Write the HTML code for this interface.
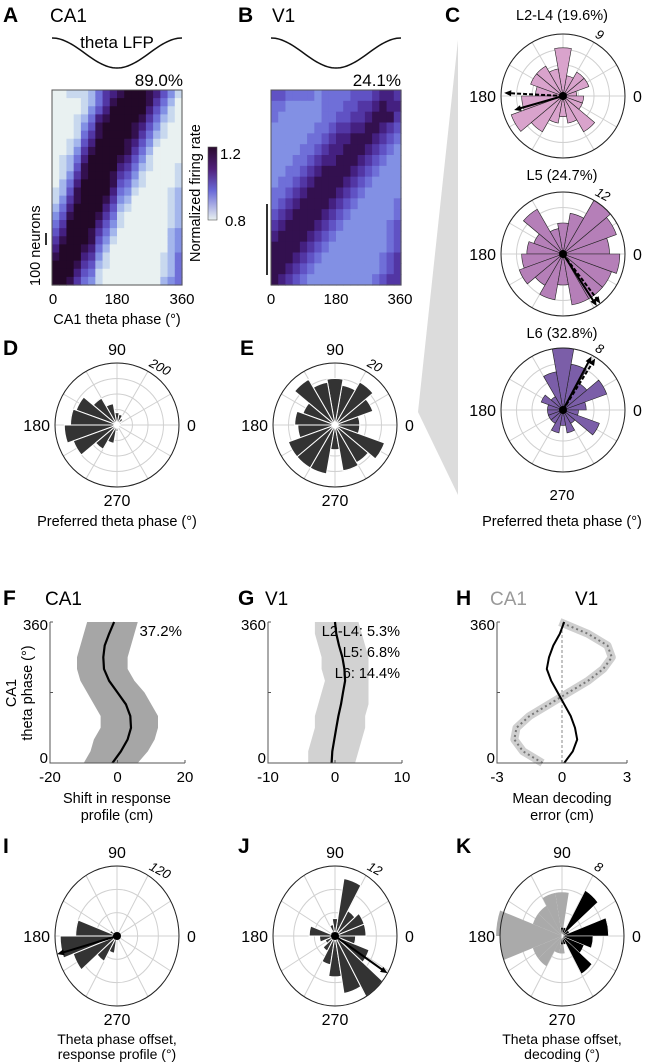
<!DOCTYPE html>
<html><head><meta charset="utf-8"><style>
html,body{margin:0;padding:0;background:#fff}
svg{display:block;font-family:"Liberation Sans",Arial,sans-serif}
.pl{font-weight:bold;font-size:21px}
.tt{font-size:19px}
.tk{font-size:15px}
.al{font-size:14.5px}
.bl{font-size:14px}
</style></head><body>
<svg id="fig" width="660" height="1062" viewBox="0 0 660 1062" xmlns="http://www.w3.org/2000/svg">
<polygon points="458,40 458,495 418,412" fill="#dcdcdc"/>
<g id="gA">
<text x="3" y="22" class="pl">A</text>
<text x="50" y="22" class="tt">CA1</text>
<text x="117" y="48" text-anchor="middle" class="tt" style="font-size:17px">theta LFP</text>
<text x="183" y="86" text-anchor="end" class="tt" style="font-size:17px">89.0%</text>
<text x="53" y="304" text-anchor="middle" class="tk">0</text>
<text x="117" y="304" text-anchor="middle" class="tk">180</text>
<text x="182" y="304" text-anchor="middle" class="tk">360</text>
<text x="117" y="324" text-anchor="middle" class="al">CA1 theta phase (°)</text>
<text transform="translate(40,286) rotate(-90)" class="al">100 neurons</text>
<line x1="46" y1="233" x2="46" y2="245" stroke="#333" stroke-width="2"/>
<text transform="translate(200,262) rotate(-90)" class="al">Normalized firing rate</text>
<defs><linearGradient id="cbg" x1="0" y1="0" x2="0" y2="1">
<stop offset="0" stop-color="#2a0a2e"/><stop offset="0.3" stop-color="#50207a"/><stop offset="0.6" stop-color="#6a6ad8"/><stop offset="1" stop-color="#e8f0f0"/></linearGradient></defs>
<rect x="208" y="147" width="9" height="73" fill="url(#cbg)" stroke="#555" stroke-width="0.6"/>
<text x="220" y="159" class="tk">1.2</text>
<text x="225" y="226" class="tk">0.8</text>
</g>
<g id="gB">
<text x="238" y="22" class="pl">B</text>
<text x="272" y="22" class="tt">V1</text>
<text x="401" y="86" text-anchor="end" class="tt" style="font-size:17px">24.1%</text>
<text x="271" y="304" text-anchor="middle" class="tk">0</text>
<text x="336" y="304" text-anchor="middle" class="tk">180</text>
<text x="400" y="304" text-anchor="middle" class="tk">360</text>
<line x1="267" y1="204" x2="267" y2="275" stroke="#333" stroke-width="2"/>
</g>
<g id="labels">
<text x="445" y="22" class="pl">C</text>
<text x="562" y="20" text-anchor="middle" class="al">L2-L4 (19.6%)</text>
<text x="562" y="180" text-anchor="middle" class="al">L5 (24.7%)</text>
<text x="562" y="338" text-anchor="middle" class="al">L6 (32.8%)</text>
<text x="562" y="500" text-anchor="middle" class="tk">270</text>
<text x="562" y="526" text-anchor="middle" class="al">Preferred theta phase (°)</text>
<text x="3" y="355" class="pl">D</text>
<text x="240" y="355" class="pl">E</text>
<text x="117" y="526" text-anchor="middle" class="al">Preferred theta phase (°)</text>
<text x="3" y="605" class="pl">F</text>
<text x="45" y="605" class="tt">CA1</text>
<text x="238" y="605" class="pl">G</text>
<text x="265" y="605" class="tt">V1</text>
<text x="456" y="605" class="pl">H</text>
<text x="490" y="605" class="tt" fill="#999">CA1</text>
<text x="575" y="605" class="tt">V1</text>
<text x="182" y="636" text-anchor="end" class="tk">37.2%</text>
<text x="400" y="636" text-anchor="end" class="al">L2-L4: 5.3%</text>
<text x="400" y="657" text-anchor="end" class="al">L5: 6.8%</text>
<text x="400" y="678" text-anchor="end" class="al">L6: 14.4%</text>
<text transform="translate(16,693) rotate(-90)" text-anchor="middle" class="al">CA1</text>
<text transform="translate(32,693) rotate(-90)" text-anchor="middle" class="al">theta phase (°)</text>
<text x="117" y="803" text-anchor="middle" class="al">Shift in response</text>
<text x="117" y="820" text-anchor="middle" class="al">profile (cm)</text>
<text x="562" y="803" text-anchor="middle" class="al">Mean decoding</text>
<text x="562" y="820" text-anchor="middle" class="al">error (cm)</text>
<text x="3" y="853" class="pl">I</text>
<text x="238" y="853" class="pl">J</text>
<text x="456" y="853" class="pl">K</text>
<text x="117" y="1044" text-anchor="middle" class="bl">Theta phase offset,</text>
<text x="117" y="1059" text-anchor="middle" class="bl">response profile (°)</text>
<text x="562" y="1044" text-anchor="middle" class="bl">Theta phase offset,</text>
<text x="562" y="1059" text-anchor="middle" class="bl">decoding (°)</text>
</g>
</svg>
<script>
// ---------- data ----------
const ca1Grid = [
"001112467899987531","000012468999986420","000013579999975310","000124789999864210",
"000135899998753100","000146899998642100","001257999987531000","001368999986420000",
"012479999875310000","012589999764210001","013689998653100001","024799998542100001",
"125899997431000012","136899986320000012","247999975210000012","358999864100000012",
"469999753100000012","579998642000000023","689998531000000023","799987420000000023",
"899976310000000124","999865210000000124","999754100000000124","998643100000000234"];
const v1Grid = [
"554444344445556776","443333344455667877","433333344556678886","333333445667788765",
"333334456778887654","333344567788876543","333445677888765433","334456788887654333",
"344567888876543333","445678888765433333","456788887654333334","567888876543333334",
"678888765433333345","788887654333333345","888876543333333345","888765433333333456",
"887654333333333456","876543333333334566"];
const binCenters = [10,30,50,70,90,110,130,150,170,190,210,230,250,270,290,310,330,350];
const dCounts  = [10,15,25,35,40,70,100,140,150,170,150,90,60,20,10,8,5,5];
const eCounts  = [8,13,16,13,15,14,17,11,13,12,16,16,16,8,15,14,17,8];
const c1Counts = [2,4,4,3,7,4,5,5,4,6,8,6,4,3,4,6,3,3];
const c2Counts = [9,11,12,8,6,5,10,6,7,8,9,7,9,6,10,10,10,11];
const c3Counts = [3,6,4,6,8,5,2,3,2,2,2,2,3,2,3,2,5,2];
const iCounts  = [2,0,0,0,2,3,6,15,80,110,90,50,30,5,2,0,0,1];
const jCounts  = [6,6,5,10,3,2,1,1,5,3,2,3,5,7,10,12,7,4];
const kGrey    = [0,0,0,0,5,5,4,4,8.5,8,4,4,2,2,0,0,0,0];
const kBlack   = [6,1,6,1,1,0,0,0,0,0,0,0,0,1,1,5,3,4];
const phases   = [0,30,60,90,120,150,180,210,240,270,300,330,360];
const fMean    = [-1.5,1,3,4,3.8,2.5,0,-2.5,-4,-4.2,-3.8,-2.5,-1];
const fLow     = [-10,-8,-7,-5,-5,-7,-9,-11,-12,-12,-11,-10,-9];
const fHigh    = [6,9,11,12,12,10,8,5,3,3,4,5,6];
const gMean    = [-0.5,-0.4,-0.1,0.2,0.5,0.9,1.2,1.5,1.4,1.1,0.6,0.2,0];
const gLow     = [-4,-4,-3.5,-3,-3,-2.5,-2,-1.5,-2,-2,-2.5,-3,-3];
const gHigh    = [3,3.5,4,4.5,4.5,5,5,5,5,5,4.5,4,3.5];
const hCA1     = [-0.9,-1.8,-2.2,-2.1,-1.5,-0.6,0.3,1.2,1.9,2.3,2.1,1.2,-0.1];
const hV1      = [0.1,0.5,0.7,0.6,0.4,0.1,-0.2,-0.5,-0.7,-0.6,-0.4,-0.1,0.1];

const NS='http://www.w3.org/2000/svg';
const svg=document.getElementById('fig');
function mk(tag,attrs,parent){const e=document.createElementNS(NS,tag);for(const k in attrs)e.setAttribute(k,attrs[k]);(parent||svg).appendChild(e);return e;}
const palette=['#e9f1f1','#c8d8ee','#a4b6ec','#8290e4','#6f6fd8','#6052c4','#5236a4','#442080','#33104f','#230828'];

function heatmap(grid,x0,y0,w,h,name){
  const g=mk('g',{});
  
  
  const nr=grid.length,nc=grid[0].length;
  for(let r=0;r<nr;r++)for(let c=0;c<nc;c++){
    const v=+grid[r][c];
    const cell=mk('rect',{x:x0+c*w/nc,y:y0+r*h/nr,width:w/nc+0.6,height:h/nr+0.6,fill:palette[v]},g);
    
    
  }
  const b=mk('rect',{x:x0,y:y0,width:w,height:h,fill:'none',stroke:'#555','stroke-width':1},g);
  
  
}
heatmap(ca1Grid,52,90,130,195,'heatmap-ca1');
heatmap(v1Grid,271,90,130,195,'heatmap-v1');

function lfp(x0,w,name){
  let d='';
  for(let i=0;i<=60;i++){const ph=i*6;const x=x0+w*ph/360;const y=53-15*Math.cos(ph*Math.PI/180);d+=(i?'L':'M')+x.toFixed(1)+','+y.toFixed(1);}
  const p=mk('path',{d:d,fill:'none',stroke:'#111','stroke-width':1.5});
  
  
}
lfp(52,130,'lfp-curve-ca1');lfp(271,130,'lfp-curve-v1');

function rose(cx,cy,rx,ry,max,series,scaleLabel,nRings,arrows,showLabels,name){
  const g=mk('g',{});
  
  
  const P=(a,f)=>[cx+rx*f*Math.cos(a*Math.PI/180),cy-ry*f*Math.sin(a*Math.PI/180)];
  for(let k=1;k<=nRings;k++){
    const e=mk('ellipse',{cx:cx,cy:cy,rx:rx*k/nRings,ry:ry*k/nRings,fill:'none',stroke:'#d0d0d0','stroke-width':1},g);
    
    
  }
  for(let a=0;a<360;a+=30){const p=P(a,1);
    const l=mk('line',{x1:cx,y1:cy,x2:p[0],y2:p[1],stroke:'#d0d0d0','stroke-width':1},g);
    
    }
  series.forEach(s=>{
    s.counts.forEach((v,i)=>{
      if(v<=0)return;const f=v/max,a=binCenters[i];
      const p1=P(a-10,f),p2=P(a+10,f);
      const w=mk('path',{d:`M${cx},${cy}L${p1[0].toFixed(2)},${p1[1].toFixed(2)}A${rx*f},${ry*f} 0 0 0 ${p2[0].toFixed(2)},${p2[1].toFixed(2)}Z`,fill:s.fill,stroke:s.stroke,'stroke-width':s.sw},g);
      
      
    });
  });
  const o=mk('ellipse',{cx:cx,cy:cy,rx:rx,ry:ry,fill:'none',stroke:'#222','stroke-width':1},g);
  
  
  (arrows||[]).forEach(ar=>{
    const p=P(ar.a,ar.f);const ux=Math.cos(ar.a*Math.PI/180),uy=-Math.sin(ar.a*Math.PI/180);
    const l=mk('line',{x1:cx,y1:cy,x2:p[0]-ux*5,y2:p[1]-uy*5,stroke:'#000','stroke-width':2,'stroke-dasharray':ar.dash?'4,2':'none'},g);
    
    
    const px=-uy,py=ux;
    const h=mk('polygon',{points:`${p[0]},${p[1]} ${p[0]-ux*7+px*3},${p[1]-uy*7+py*3} ${p[0]-ux*7-px*3},${p[1]-uy*7-py*3}`,fill:'#000'},g);
    
    
  });
  if(arrows&&arrows.length){const c=mk('circle',{cx:cx,cy:cy,r:4,fill:'#000'},g);}
  const sp=P(62,1.08);
  const t=mk('text',{x:sp[0],y:sp[1],'font-size':13,'font-style':'italic',transform:`rotate(28 ${sp[0]} ${sp[1]})`},g);
  t.textContent=scaleLabel;
  
  
  const lbl=[['0',cx+rx+8,cy+6,'start'],['180',cx-rx-5,cy+6,'end']];
  if(showLabels){lbl.push(['90',cx,cy-ry-8,'middle'],['270',cx,cy+ry+19,'middle']);}
  lbl.forEach(q=>{const e=mk('text',{x:q[1],y:q[2],'text-anchor':q[3],'font-size':16},g);e.textContent=q[0];
    
    });
}
rose(117,425,62,62,200,[{counts:dCounts,fill:'#333',stroke:'#fff',sw:1}],'200',4,null,true,'rose-d');
rose(335,425,62,62,20,[{counts:eCounts,fill:'#333',stroke:'#fff',sw:1}],'20',4,null,true,'rose-e');
rose(563,96,62,62,9,[{counts:c1Counts,fill:'#d9a3cc',stroke:'#222',sw:0.6}],'9',4,[{a:177,f:0.95,dash:true},{a:196,f:0.82}],false,'rose-c-l2l4');
rose(563,254,62,62,12,[{counts:c2Counts,fill:'#b57fb8',stroke:'#222',sw:0.6}],'12',4,[{a:307,f:1.0,dash:true},{a:303,f:1.0}],false,'rose-c-l5');
rose(563,410,62,62,8,[{counts:c3Counts,fill:'#7b5ea8',stroke:'#222',sw:0.6}],'8',4,[{a:58,f:0.98,dash:true},{a:62,f:0.98}],false,'rose-c-l6');
rose(117,936,62,70,120,[{counts:iCounts,fill:'#333',stroke:'#fff',sw:1}],'120',3,[{a:195,f:1.0}],true,'rose-i');
rose(335,936,62,70,12,[{counts:jCounts,fill:'#333',stroke:'#fff',sw:1}],'12',3,[{a:328,f:1.0}],true,'rose-j');
rose(562,936,62,70,8,[{counts:kGrey,fill:'#aaaaaa',stroke:'none',sw:0},{counts:kBlack,fill:'#000',stroke:'#fff',sw:0.5}],'8',3,null,true,'rose-k');

// line panels
function linePanel(x0,x1,xmin,xmax,xticks,name,draw){
  const y0=763,y1=622;
  const g=mk('g',{});
  
  
  const X=v=>x0+(v-xmin)/(xmax-xmin)*(x1-x0),Y=p=>y0-(p/360)*(y0-y1);
  draw(g,X,Y);
  const ax=mk('path',{d:`M${x0},${y1}V${y0}H${x1}`,fill:'none',stroke:'#555','stroke-width':1},g);
  
  
  xticks.forEach(v=>{
    const t=mk('line',{x1:X(v),x2:X(v),y1:y0,y2:y0-3,stroke:'#555'},g);
    
    const l=mk('text',{x:X(v),y:y0+19,'text-anchor':'middle','font-size':15},g);l.textContent=v;
    
  });
  [0,180,360].forEach(p=>{
    const t=mk('line',{x1:x0,x2:x0+3,y1:Y(p),y2:Y(p),stroke:'#555'},g);
    
    if(p!==180){const l=mk('text',{x:x0-2,y:Y(p)+(p?8:0),'text-anchor':'end','font-size':15},g);l.textContent=p;
      }
  });
}
function poly(arr,X,Y){return phases.map((p,i)=>X(arr[i]).toFixed(1)+','+Y(p).toFixed(1)).join(' ');}
function band(g,lo,hi,X,Y,fill){
  const pts=phases.map((p,i)=>X(lo[i])+','+Y(p)).concat(phases.map((p,i)=>X(hi[i])+','+Y(p)).reverse()).join(' ');
  const b=mk('polygon',{points:pts,fill:fill},g);
  
}
linePanel(50,185,-20,20,[-20,0,20],'plot-f',(g,X,Y)=>{
  band(g,fLow,fHigh,X,Y,'#a6a6a6');
  const m=mk('polyline',{points:poly(fMean,X,Y),fill:'none',stroke:'#000','stroke-width':2.2,'stroke-linejoin':'round'},g);
  
});
linePanel(268,402,-10,10,[-10,0,10],'plot-g',(g,X,Y)=>{
  band(g,gLow,gHigh,X,Y,'#d2d2d2');
  const m=mk('polyline',{points:poly(gMean,X,Y),fill:'none',stroke:'#000','stroke-width':2.2,'stroke-linejoin':'round'},g);
  
});
linePanel(497,627,-3,3,[-3,0,3],'plot-h',(g,X,Y)=>{
  const z=mk('line',{x1:X(0),x2:X(0),y1:Y(0),y2:Y(360),stroke:'#888','stroke-dasharray':'3,2'},g);
  
  const c1=mk('polyline',{points:poly(hCA1,X,Y),fill:'none',stroke:'#cfcfcf','stroke-width':8,'stroke-linejoin':'round'},g);
  
  const c2=mk('polyline',{points:poly(hCA1,X,Y),fill:'none',stroke:'#777','stroke-width':2,'stroke-dasharray':'2,3'},g);
  
  const v=mk('polyline',{points:poly(hV1,X,Y),fill:'none',stroke:'#000','stroke-width':2,'stroke-linejoin':'round'},g);
  
});
// keep text labels on top of chart marks
svg.appendChild(document.getElementById('labels'));
</script>
</body></html>
